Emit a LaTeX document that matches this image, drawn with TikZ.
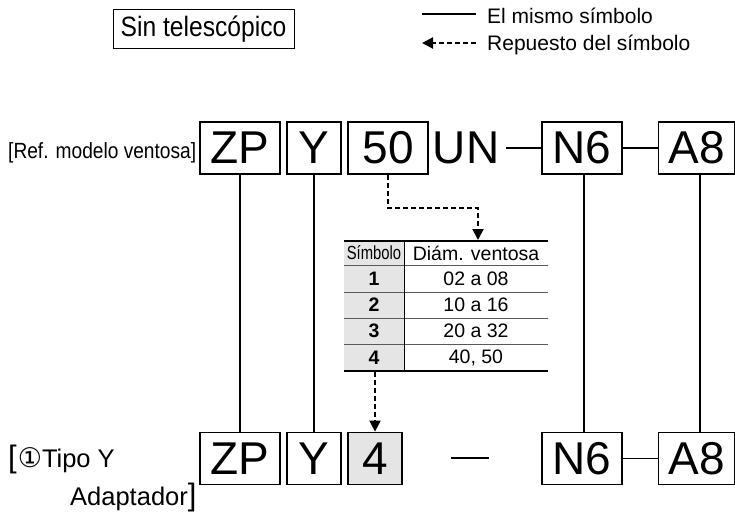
\documentclass[tikz,border=0pt]{standalone}
\usepackage{fontspec}
\setmainfont{Liberation Sans}
\newfontfamily\condfont[FakeStretch=0.87]{Liberation Sans}
\newfontfamily\narrowfont[FakeStretch=0.78]{Liberation Sans}
\newfontfamily\titlefont[FakeStretch=0.88]{Liberation Sans}
\newfontfamily\dejavu{DejaVu Sans}
\usetikzlibrary{arrows.meta}
\begin{document}
\begin{tikzpicture}[x=1pt,y=-1pt,
  bigbox/.style={draw, line width=1.8pt, minimum height=52pt, inner sep=0pt, font=\fontsize{46}{46}\selectfont},
  conn/.style={line width=1.8pt},
  dasharrow/.style={line width=2pt, dash pattern=on 5pt off 3pt, -{Triangle[width=11pt,length=11pt]}},
  tabtxt/.style={inner sep=0pt, font=\fontsize{19.5}{19.5}\selectfont},
  tabnum/.style={inner sep=0pt, font=\bfseries\fontsize{19.5}{19.5}\selectfont},
  legtxt/.style={anchor=west, inner sep=0pt, font=\fontsize{21}{21}\selectfont},
  rowline/.style={line width=1pt, black!65}
]
\useasboundingbox (0,0) rectangle (735,516);

% title box
\node[draw, line width=1pt, minimum width=181pt, minimum height=39pt, inner sep=0pt,
  font=\titlefont\fontsize{28}{28}\selectfont] (title) at (203.5,29.5) {Sin telescópico};

% legend
\coordinate (l1) at (422,14); \coordinate (l2) at (476,14);
\draw[conn] (l1) -- (l2);
\node[legtxt] (leg1) at (487,15.5) {El mismo símbolo};
\coordinate (m1) at (476,43); \coordinate (m2) at (422,43);
\draw[dasharrow] (m1) -- (m2);
\node[legtxt] (leg2) at (487,45) {Repuesto del símbolo};

% top row
\node[anchor=base west, inner sep=0pt, font=\condfont\fontsize{22}{22}\selectfont] (reflab) at (8,158) {[Ref. modelo ventosa]};
\node[bigbox, minimum width=80pt] (zp1) at (240,148) {ZP};
\node[bigbox, minimum width=54pt] (y1) at (314,148) {Y};
\node[bigbox, minimum width=80pt] (f1) at (388,148) {50};
\node[inner sep=0pt, inner xsep=7pt, font=\fontsize{46}{46}\selectfont] (un) at (466,148) {UN};
\node[bigbox, minimum width=80pt] (n6a) at (582,148) {N6};
\node[bigbox, minimum width=76pt] (a8a) at (696.5,148) {A8};
\draw[conn] (un.east) -- (n6a.west);
\draw[conn] (n6a.east) -- (a8a.west);

% bottom row
\node[anchor=base west, inner sep=0pt, font=\fontsize{25.5}{25.5}\selectfont] (tlab1) at (8,467)
  {{\fontsize{31}{31}\selectfont[}\hspace{1pt}{\dejavu\fontsize{27}{27}\selectfont ①}Tipo Y};
\node[anchor=base west, inner sep=0pt, font=\fontsize{25.5}{25.5}\selectfont] (tlab2) at (70,505)
  {Adaptador{\fontsize{31}{31}\selectfont]}};
\node[bigbox, minimum width=80pt] (zp2) at (240,458.5) {ZP};
\node[bigbox, minimum width=54pt] (y2) at (314,458.5) {Y};
\node[bigbox, minimum width=54pt, fill=black!10] (four) at (375,458.5) {4};
\coordinate (d1) at (451,458); \coordinate (d2) at (489,458);
\draw[line width=2.4pt] (d1) -- (d2);
\node[bigbox, minimum width=80pt] (n6b) at (582,458.5) {N6};
\node[bigbox, minimum width=76pt] (a8b) at (696.5,458.5) {A8};
\draw[conn] (n6b.east) -- (a8b.west);

% vertical connectors
\draw[conn] (zp1.south) -- (zp2.north);
\draw[conn] (y1.south) -- (y2.north);
\draw[conn] ([xshift=2pt]n6a.south) -- ([xshift=2pt]n6b.north);
\draw[conn] ([xshift=3.5pt]a8a.south) -- ([xshift=3.5pt]a8b.north);

% table
\fill[black!10] (344,241) rectangle (404,371);
\draw[rowline] (344,265) -- (548,265);
\draw[rowline] (344,292) -- (548,292);
\draw[rowline] (344,318) -- (548,318);
\draw[rowline] (344,344) -- (548,344);
\draw[line width=1pt] (404,241) -- (404,371);
\draw[line width=2pt] (344,241) -- (548,241);
\draw[line width=1.5pt] (344,371) -- (548,371);
\node[tabtxt, font=\narrowfont\fontsize{19}{19}\selectfont] (h1) at (374,253) {Símbolo};
\node[tabtxt] (h2) at (476,253) {Diám. ventosa};
\node[tabnum] (s1) at (374,278.5) {1};
\node[tabtxt] (v1) at (476,278.5) {02 a 08};
\node[tabnum] (s2) at (374,305) {2};
\node[tabtxt] (v2) at (476,305) {10 a 16};
\node[tabnum] (s3) at (374,331) {3};
\node[tabtxt] (v3) at (476,331) {20 a 32};
\node[tabnum] (s4) at (374,357.5) {4};
\node[tabtxt] (v4) at (476,357.5) {40, 50};
\coordinate (tabin) at (478,240);
\coordinate (tabout) at (375,372);

% dashed arrows
\draw[dasharrow] (f1.south) -- (f1.south |- 0,208) -| (tabin);
\draw[dasharrow] (tabout) -- (four.north);
\end{tikzpicture}
\end{document}
